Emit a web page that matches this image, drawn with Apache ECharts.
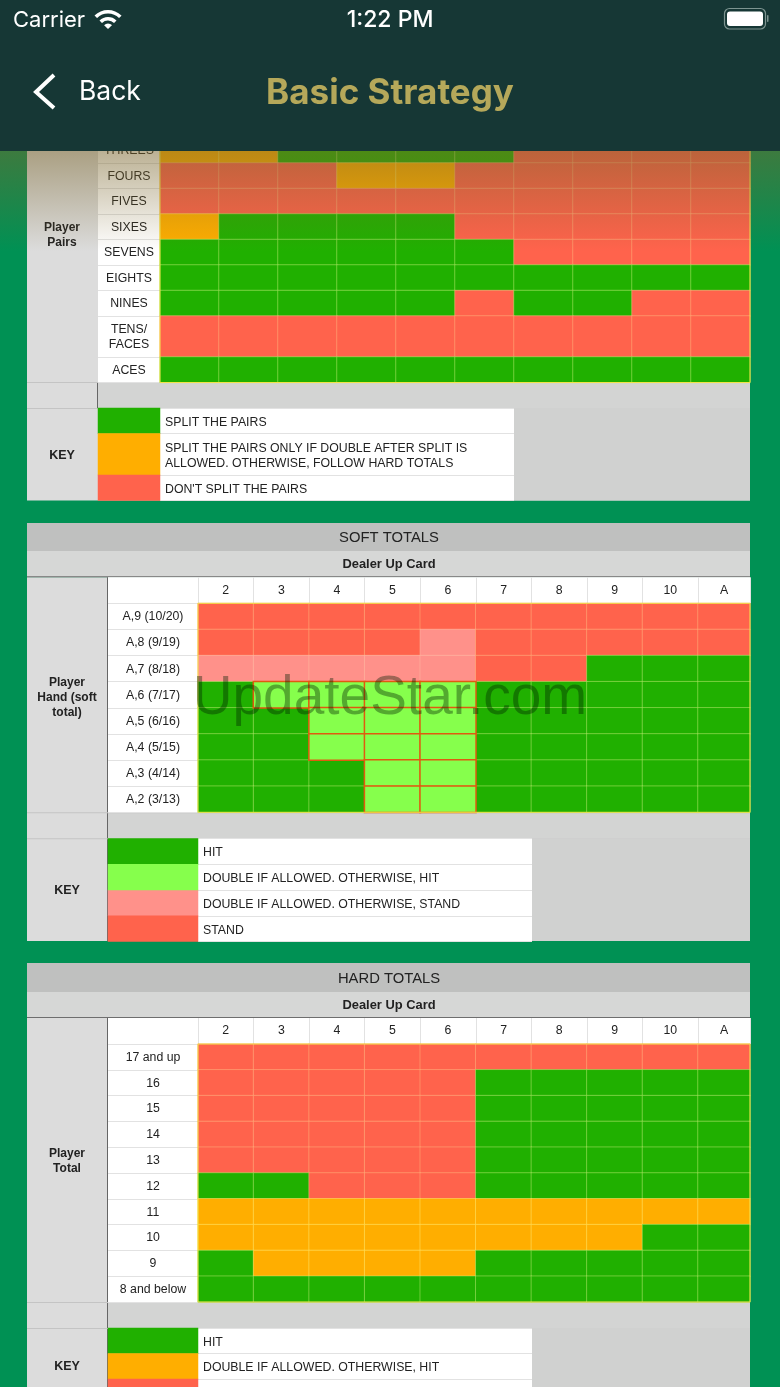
<!DOCTYPE html>
<html>
<head>
<meta charset="utf-8">
<title>Basic Strategy</title>
<script src="https://cdn.jsdelivr.net/npm/echarts@6/dist/echarts.min.js"></script>
<style>
html,body{margin:0;padding:0;background:#009154;}
#chart{width:780px;height:1387px;}
</style>
</head>
<body>
<div id="chart"></div>
<script>
var cards = ['2','3','4','5','6','7','8','9','10','A'];

// action codes used in the cell tables
var HIT = 0, DOUBLE = 1, SOFT_STAND = 2, STAND = 3, SOFT_DOUBLE = 4;

var pairRows = ['THREES','FOURS','FIVES','SIXES','SEVENS','EIGHTS','NINES'];
var pairCells = [
	[1,1,0,0,0,0,3,3,3,3],
	[3,3,3,1,1,3,3,3,3,3],
	[3,3,3,3,3,3,3,3,3,3],
	[1,0,0,0,0,3,3,3,3,3],
	[0,0,0,0,0,0,3,3,3,3],
	[0,0,0,0,0,0,0,0,0,0],
	[0,0,0,0,0,3,0,0,3,3]
];
var tensRow = ['TENS/\nFACES'];
var tensCells = [[3,3,3,3,3,3,3,3,3,3]];
var acesRow = ['ACES'];
var acesCells = [[0,0,0,0,0,0,0,0,0,0]];

var softRows = ['A,9 (10/20)','A,8 (9/19)','A,7 (8/18)','A,6 (7/17)','A,5 (6/16)','A,4 (5/15)','A,3 (4/14)','A,2 (3/13)'];
var softCells = [
	[3,3,3,3,3,3,3,3,3,3],
	[3,3,3,3,2,3,3,3,3,3],
	[2,2,2,2,2,3,3,0,0,0],
	[0,4,4,4,4,0,0,0,0,0],
	[0,0,4,4,4,0,0,0,0,0],
	[0,0,4,4,4,0,0,0,0,0],
	[0,0,0,4,4,0,0,0,0,0],
	[0,0,0,4,4,0,0,0,0,0]
];

var hardRows = ['17 and up','16','15','14','13','12','11','10','9','8 and below'];
var hardCells = [
	[3,3,3,3,3,3,3,3,3,3],
	[3,3,3,3,3,0,0,0,0,0],
	[3,3,3,3,3,0,0,0,0,0],
	[3,3,3,3,3,0,0,0,0,0],
	[3,3,3,3,3,0,0,0,0,0],
	[0,0,3,3,3,0,0,0,0,0],
	[1,1,1,1,1,1,1,1,1,1],
	[1,1,1,1,1,1,1,1,0,0],
	[0,1,1,1,1,0,0,0,0,0],
	[0,0,0,0,0,0,0,0,0,0]
];

var pairKeys = ['SPLIT THE PAIRS','SPLIT THE PAIRS ONLY IF DOUBLE AFTER SPLIT IS\nALLOWED. OTHERWISE, FOLLOW HARD TOTALS',"DON'T SPLIT THE PAIRS"];
var pairKeyCodes = [HIT, DOUBLE, STAND];
var softKeys = ['HIT','DOUBLE IF ALLOWED. OTHERWISE, HIT','DOUBLE IF ALLOWED. OTHERWISE, STAND','STAND'];
var softKeyCodes = [HIT, SOFT_DOUBLE, SOFT_STAND, STAND];
var hardKeys = ['HIT','DOUBLE IF ALLOWED. OTHERWISE, HIT','STAND'];
var hardKeyCodes = [HIT, DOUBLE, STAND];

var colors = ['#20b000','#ffae00','#ff918a','#ff634c','#86ff4c'];
var cellBorders = ['rgba(200,240,120,.45)','rgba(255,235,110,.5)','rgba(255,200,170,.4)','rgba(255,190,130,.45)','#e05a10'];

var FONT = '"Liberation Sans", Arial, sans-serif';
var UI_FONT = 'Inter, Roboto, sans-serif';
var LINE = '#e2e2e2';

var grids = [], xAxes = [], yAxes = [], series = [];

function addCells(c){
	var idx = grids.length;
	grids.push({left:c.left, top:c.top, width:c.width, height:c.height, containLabel:false});
	xAxes.push({
		type:'category', gridIndex:idx, data:c.cols, position:'top', silent:true,
		axisLine:{show:false}, splitLine:{show:false},
		axisTick:{show:!!c.headH, length:c.headH || 0, lineStyle:{color:LINE, width:1}},
		axisLabel:{show:!!c.headH, interval:0, margin:(c.headH||0)/2, verticalAlign:'middle', color:'#222', fontFamily:FONT, fontSize:12.3}
	});
	var side = c.side || 'left';
	yAxes.push({
		type:'category', gridIndex:idx, data:c.rows, inverse:true, position:side, silent:true,
		axisLine:{show:false}, splitLine:{show:false},
		axisTick:{show:!!c.labelW, length:c.labelW || 0, lineStyle:{color:LINE, width:1}},
		axisLabel:{
			show:!!c.labelW, interval:0,
			margin: side == 'left' ? (c.labelW||0)/2 : 5,
			align: side == 'left' ? 'center' : 'left',
			color:'#222', fontFamily:FONT, fontSize:12.3,
			// plain padding does not move axis text, rich padding does
			formatter:function(v){
				return v.split('\n').map(function(s){ return '{t|' + s + '}'; }).join('\n');
			},
			rich:{t:{fontFamily:FONT, fontSize:12.3, color:'#222', lineHeight:15, padding: side == 'left' ? [1,0,0,0] : [3,0,0,0]}}
		}
	});
	var data = [];
	c.cells.forEach(function(row, y){
		row.forEach(function(code, x){
			data.push({value:[x, y, code], itemStyle:{color:colors[code], borderColor:cellBorders[code], borderWidth:c.border === 0 ? 0 : (code == SOFT_DOUBLE ? 1.5 : 1)}});
		});
	});
	// the orange outlines have to sit over their neighbours
	data.sort(function(a,b){ return (a.value[2]==SOFT_DOUBLE?1:0) - (b.value[2]==SOFT_DOUBLE?1:0); });
	series.push({type:'heatmap', xAxisIndex:idx, yAxisIndex:idx, data:data, silent:true, animation:false, emphasis:{disabled:true}, label:{show:false}});
}

// dealer table split at the narrower A column
function addDealerTable(top, rowsH, rows, cells, headH){
	addCells({left:198, top:top, width:500, height:rowsH, cols:cards.slice(0,9), rows:rows, labelW:90, headH:headH,
		cells:cells.map(function(r){return r.slice(0,9);})});
	addCells({left:698, top:top, width:52, height:rowsH, cols:cards.slice(9), rows:rows, headH:headH,
		cells:cells.map(function(r){return r.slice(9);})});
}

function addKey(left, top, width, height, rows, codes, textW){
	addCells({left:left, top:top, width:width, height:height, cols:['k'], rows:rows, side:'right', labelW:textW, border:0,
		cells:codes.map(function(c){return [c];})});
}

addCells({left:160, top:137.5, width:590, height:178.5, cols:cards, rows:pairRows, cells:pairCells, labelW:62});
addCells({left:160, top:316, width:590, height:41, cols:cards, rows:tensRow, cells:tensCells, labelW:62});
addCells({left:160, top:357, width:590, height:25.5, cols:cards, rows:acesRow, cells:acesCells, labelW:62});
addKey(98, 408, 62, 25.5, pairKeys.slice(0,1), pairKeyCodes.slice(0,1), 354);
addKey(98, 433.5, 62, 41.5, pairKeys.slice(1,2), pairKeyCodes.slice(1,2), 354);
addKey(98, 475, 62, 25.5, pairKeys.slice(2), pairKeyCodes.slice(2), 354);

addDealerTable(603.3, 209, softRows, softCells, 26);
addKey(108, 838.5, 90, 103, softKeys, softKeyCodes, 334);

addDealerTable(1044, 258, hardRows, hardCells, 26);
// last key row runs off the bottom of the screen, only its top shows
addKey(108, 1328, 90, 51, hardKeys.slice(0,2), hardKeyCodes.slice(0,2), 334);
addCells({left:108, top:1379, width:90, height:8, cols:['k'], rows:hardKeys.slice(2), border:0, cells:[[hardKeyCodes[2]]]});

function rect(x,y,w,h,fill,z){
	return {type:'rect', silent:true, z:z===undefined?-5:z, shape:{x:x,y:y,width:w,height:h}, style:{fill:fill}};
}
function outline(x,y,w,h,stroke,z){
	return {type:'rect', silent:true, z:z, shape:{x:x,y:y,width:w,height:h}, style:{fill:'none', stroke:stroke, lineWidth:1}};
}
function text(str,x,y,size,weight,fill,align,family,z){
	return {type:'text', silent:true, z:z===undefined?-1:z, x:x, y:y,
		style:{text:str, fontSize:size, fontWeight:weight||'normal', fontFamily:family||FONT, fill:fill||'#222', align:align||'center', verticalAlign:'middle', lineHeight:Math.round(size*1.25)}};
}

var g = [];

// table one: player pairs (its top scrolls under the bar)
g.push(rect(27,100,723,400.5,'#dcdcdc'));
g.push(rect(98,100,62,282.5,'#ffffff'));
g.push(rect(98,382.5,652,26,'#d3d4d3'));
g.push(rect(97,382.5,1,26,'#666666'));
g.push(rect(27,382,723,1,'#c4c4c4'));
g.push(rect(27,408,723,1,'#c4c4c4'));
g.push(rect(160,408,354,92.5,'#ffffff'));
g.push(rect(514,408,236,92.5,'#d0d1d0'));
g.push(outline(160,137.5,590,245,'#f2e24a',6));
g.push(text('Player\nPairs',62,235,12,'bold'));
g.push(text('KEY',62,456,12.5,'bold'));

// table two and three share their shape
function dealerChrome(top, headTop, rowsTop, rowsBottom, keyBottom, name, label, labelY, keyY){
	g.push(rect(27,top,723,headTop-top,'#bfc0bf'));
	g.push(rect(27,headTop,723,rowsTop-26-headTop,'#d6d7d6'));
	g.push(rect(27,rowsTop-26,723,keyBottom-rowsTop+26,'#dcdcdc'));
	g.push(rect(27,rowsTop-27,723,1,'#6e6e6e'));
	g.push(rect(108,rowsTop-26,642,rowsBottom-rowsTop+26,'#ffffff'));
	g.push(rect(107,rowsTop-26,1,keyBottom-rowsTop+26,'#666666'));
	g.push(rect(108,rowsBottom,642,26,'#d3d4d3'));
	g.push(rect(27,rowsBottom,723,1,'#c4c4c4'));
	g.push(rect(27,rowsBottom+26,723,1,'#c4c4c4'));
	g.push(rect(198,rowsBottom+26,334,keyBottom-rowsBottom-26,'#ffffff'));
	g.push(rect(532,rowsBottom+26,218,keyBottom-rowsBottom-26,'#d0d1d0'));
	g.push(outline(198,rowsTop,552,rowsBottom-rowsTop,'#f2e24a',6));
	g.push(text(name,389,(top+headTop)/2+1,14.8));
	g.push(text('Dealer Up Card',389,(headTop+rowsTop-26)/2,12.9,'bold'));
	g.push(text(label,67,labelY,12,'bold'));
	g.push(text('KEY',67,keyY,12.5,'bold'));
}
dealerChrome(523,551,603.3,812.3,941,'SOFT TOTALS','Player\nHand (soft\ntotal)',698,891);
dealerChrome(963,992,1044,1302,1405,'HARD TOTALS','Player\nTotal',1161,1367);

// watermark
g.push({type:'text', silent:true, z:12, x:390, y:699, style:{text:'UpdateStar.com', fontSize:55, fontFamily:FONT, fill:'rgba(0,30,0,.38)', align:'center', verticalAlign:'middle'}});

// shade the bar drops over the scrolled table
g.push({type:'rect', silent:true, z:15, shape:{x:0,y:151,width:780,height:100}, style:{fill:{type:'linear',x:0,y:0,x2:0,y2:1,colorStops:[{offset:0,color:'rgba(121,100,42,.5)'},{offset:1,color:'rgba(121,100,42,0)'}]}}});

// nav bar
g.push(rect(0,0,780,151,'#163735',20));
g.push(text('Carrier',13,20,22,'normal','#ffffff','left',UI_FONT,21));
g.push({type:'sector', silent:true, z:21, shape:{cx:108,cy:29,r0:15.5,r:19,startAngle:-2.36,endAngle:-0.78}, style:{fill:'#fff'}});
g.push({type:'sector', silent:true, z:21, shape:{cx:108,cy:29,r0:8.5,r:12,startAngle:-2.36,endAngle:-0.78}, style:{fill:'#fff'}});
g.push({type:'sector', silent:true, z:21, shape:{cx:108,cy:29,r0:0,r:5.5,startAngle:-2.36,endAngle:-0.78}, style:{fill:'#fff'}});
g.push(text('1:22 PM',390,20,23,'500','#ffffff','center',UI_FONT,21));
g.push({type:'rect', silent:true, z:21, shape:{x:724.5,y:8.5,width:41,height:20.5,r:5}, style:{fill:'none',stroke:'#7d9490',lineWidth:1.2}});
g.push({type:'rect', silent:true, z:21, shape:{x:727,y:11.5,width:36,height:14.5,r:3}, style:{fill:'#ffffff'}});
g.push({type:'rect', silent:true, z:21, shape:{x:767,y:15,width:1.5,height:7,r:1}, style:{fill:'#7d9490'}});
g.push({type:'polyline', silent:true, z:21, shape:{points:[[54,75],[36,92],[54,108]]}, style:{stroke:'#fff',lineWidth:4,fill:'none'}});
g.push(text('Back',79,92,26.5,'normal','#ffffff','left',UI_FONT,21));
g.push(text('Basic Strategy',390,93,35,'bold','#b5a85a','center',UI_FONT,21));

var chart = echarts.init(document.getElementById('chart'));
chart.setOption({
	animation:false,
	backgroundColor:'#009154',
	tooltip:{show:false},
	grid:grids,
	xAxis:xAxes,
	yAxis:yAxes,
	series:series,
	graphic:{elements:g}
});
</script>
</body>
</html>
